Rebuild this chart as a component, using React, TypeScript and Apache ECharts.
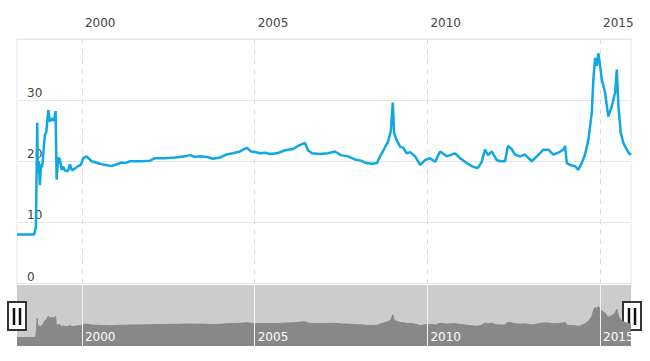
import React, { useEffect, useRef } from "react";
import * as echarts from "echarts";

// ---- data ----
const dates: string[] = [
  "1998-02-13", "1998-08-14", "1998-09-01", "1998-09-15", "1998-09-22", "1998-10-01", "1998-10-13",
  "1998-10-25", "1998-11-04", "1998-11-15", "1998-11-24", "1998-12-05", "1998-12-20", "1999-01-10",
  "1999-01-27", "1999-02-17", "1999-03-10", "1999-03-28", "1999-04-08", "1999-04-25", "1999-05-13",
  "1999-05-31", "1999-06-17", "1999-07-05", "1999-08-06", "1999-08-27", "1999-09-17", "1999-10-19",
  "1999-11-19", "1999-12-20", "2000-01-14", "2000-02-19", "2000-04-12", "2000-07-27", "2000-11-10",
  "2001-02-24", "2001-03-31", "2001-05-23", "2001-09-06", "2001-12-20", "2002-02-11", "2002-05-28",
  "2002-09-10", "2002-12-25", "2003-02-16", "2003-04-10", "2003-06-02", "2003-08-15", "2003-10-17",
  "2003-12-31", "2004-03-03", "2004-05-16", "2004-07-29", "2004-10-08", "2004-11-23", "2005-01-04",
  "2005-02-26", "2005-04-20", "2005-06-12", "2005-08-25", "2005-11-17", "2006-02-10", "2006-04-04",
  "2006-06-17", "2006-07-18", "2006-08-30", "2006-11-22", "2007-02-15", "2007-04-29", "2007-07-01",
  "2007-09-14", "2007-11-26", "2008-01-29", "2008-03-23", "2008-05-25", "2008-07-17", "2008-08-18",
  "2008-09-30", "2008-11-11", "2008-12-10", "2008-12-31", "2009-01-14", "2009-02-11", "2009-03-18",
  "2009-04-19", "2009-05-28", "2009-07-02", "2009-08-24", "2009-10-16", "2009-12-07", "2010-01-29",
  "2010-03-23", "2010-05-15", "2010-07-24", "2010-10-20", "2010-12-12", "2011-02-21", "2011-04-28",
  "2011-06-20", "2011-07-29", "2011-09-02", "2011-10-04", "2011-11-12", "2012-01-04", "2012-02-08",
  "2012-04-01", "2012-05-02", "2012-06-10", "2012-07-15", "2012-09-06", "2012-10-29", "2013-01-09",
  "2013-03-03", "2013-05-12", "2013-07-03", "2013-08-25", "2013-10-17", "2013-12-09", "2013-12-27",
  "2014-01-14", "2014-02-18", "2014-04-11", "2014-05-16", "2014-06-21", "2014-07-26", "2014-08-30",
  "2014-10-05", "2014-10-22", "2014-11-09", "2014-11-27", "2014-12-14", "2015-01-01", "2015-01-19",
  "2015-02-23", "2015-03-29", "2015-05-05", "2015-06-09", "2015-06-27", "2015-07-14", "2015-08-08",
  "2015-09-04", "2015-10-10", "2015-11-13", "2015-11-24",
];
const values: number[] = [
  8.0, 8.0, 9.3, 26.3, 18.0, 20.0, 16.1,
  19.5, 19.0, 20.5, 22.5, 24.3, 24.8, 28.4,
  26.5, 27.0, 26.6, 28.2, 17.0, 20.6, 20.3,
  18.6, 19.1, 18.5, 18.4, 19.5, 18.5, 18.8,
  19.2, 19.4, 20.5, 20.8, 20.0, 19.5, 19.2,
  19.8, 19.7, 20.0, 20.0, 20.1, 20.5, 20.5,
  20.6, 20.8, 21.0, 20.7, 20.8, 20.7, 20.4,
  20.6, 21.1, 21.3, 21.6, 22.2, 21.6, 21.5,
  21.3, 21.4, 21.2, 21.3, 21.8, 22.0, 22.5,
  23.0, 21.8, 21.3, 21.2, 21.3, 21.6, 21.0,
  20.8, 20.3, 20.1, 19.7, 19.6, 19.7, 20.8,
  22.0, 23.2, 24.9, 29.6, 24.6, 23.4, 22.4,
  22.2, 21.3, 21.5, 20.8, 19.4, 20.2, 20.5,
  19.9, 21.6, 20.8, 21.3, 20.5, 19.7, 19.1,
  18.9, 19.9, 21.9, 21.0, 21.6, 20.2, 20.0,
  20.0, 22.5, 22.0, 21.1, 20.8, 21.1, 20.0,
  20.8, 21.9, 21.9, 21.1, 21.4, 21.9, 22.5,
  19.7, 19.4, 19.2, 18.6, 19.7, 21.1, 23.5,
  27.9, 33.4, 36.9, 35.6, 37.7, 35.6, 33.4,
  31.2, 27.3, 29.0, 31.2, 35.0, 29.0, 24.6,
  23.0, 21.9, 21.1, 21.3,
];
const xMin = "1998-02-13";
const xMax = "2015-11-24";
const tickYears: number[] = [2000, 2005, 2010, 2015];
const yTicks = { min: 0, max: 40, interval: 10 };
const navYMax = 58;

const toTs = (s: string) => {
  const [y, m, d] = s.split("-").map(Number);
  return new Date(y, m - 1, d).getTime();
};

export default function App() {
  const ref = useRef<HTMLDivElement>(null);
  useEffect(() => {
    if (!ref.current) return;
    const chart = echarts.init(ref.current, undefined, { renderer: "svg" });
    const data = dates.map((d, i) => [toTs(d), values[i]]);
    const yearTs = tickYears.map((y) => new Date(y, 0, 1).getTime());
    const fmt = (v: number) => String(new Date(v).getFullYear());
    const font = { fontFamily: "DejaVu Sans", fontSize: 12 };
    const minTs = toTs(xMin);
    const maxTs = toTs(xMax);

    const handle = (cx: number) => ({
      type: "group",
      x: cx,
      y: 316,
      z: 100,
      children: [
        { type: "rect", shape: { x: -9, y: -14, width: 18, height: 28 }, style: { fill: "#fff", stroke: "#333", lineWidth: 2 } },
        { type: "line", shape: { x1: -3, y1: -8, x2: -3, y2: 9 }, style: { stroke: "#111", lineWidth: 2.5 } },
        { type: "line", shape: { x1: 3, y1: -8, x2: 3, y2: 9 }, style: { stroke: "#111", lineWidth: 2.5 } },
      ],
    });

    chart.setOption({
      animation: false,
      backgroundColor: "#fff",
      grid: [
        { left: 17, right: 19, top: 39, bottom: 77.5, show: true, borderColor: "#e6e6e6", borderWidth: 1 },
        { left: 17, right: 19, top: 285, height: 61, show: true, backgroundColor: "#cccccc", borderWidth: 0 },
      ],
      xAxis: [
        {
          type: "value",
          gridIndex: 0,
          position: "top",
          min: minTs,
          max: maxTs,
          axisLine: { show: true, lineStyle: { color: "#e6e6e6" } },
          axisTick: { show: false, customValues: yearTs },
          axisLabel: {
            customValues: yearTs,
            formatter: fmt,
            align: "left",
            padding: [0, 0, 0, 3],
            margin: 10,
            color: "#444",
            ...font,
          },
          splitLine: { show: true, lineStyle: { color: "#dcdcdc", type: [5, 5] } },
        },
        {
          type: "value",
          gridIndex: 1,
          position: "bottom",
          z: 10,
          min: minTs,
          max: maxTs,
          axisLine: { show: false },
          axisTick: { show: false, customValues: yearTs },
          axisLabel: {
            customValues: yearTs,
            formatter: fmt,
            inside: true,
            align: "left",
            padding: [0, 0, 0, 3],
            margin: 3,
            color: "#fff",
            ...font,
          },
          splitLine: { show: true, lineStyle: { color: "#f2f2f2", width: 1 } },
        },
      ],
      yAxis: [
        {
          type: "value",
          gridIndex: 0,
          min: yTicks.min,
          max: yTicks.max,
          interval: yTicks.interval,
          axisLine: { show: false },
          axisTick: { show: false },
          axisLabel: {
            inside: true,
            showMaxLabel: false,
            verticalAlign: "bottom",
            margin: 10,
            padding: [0, 0, 1, 0],
            color: "#444",
            ...font,
          },
          splitLine: {
            show: true,
            lineStyle: { color: ["#a6a6a6", "#e6e6e6", "#e6e6e6", "#e6e6e6", "#e6e6e6"], width: 1 },
          },
        },
        {
          type: "value",
          gridIndex: 1,
          min: 0,
          max: navYMax,
          show: false,
          splitLine: { show: false },
        },
      ],
      series: [
        {
          type: "line",
          xAxisIndex: 0,
          yAxisIndex: 0,
          data,
          showSymbol: false,
          lineStyle: { color: "#0fa8e4", width: 2.5 },
          itemStyle: { color: "#0fa8e4" },
        },
        {
          type: "line",
          xAxisIndex: 1,
          yAxisIndex: 1,
          data,
          showSymbol: false,
          lineStyle: { color: "#888888", width: 1 },
          itemStyle: { color: "#888888" },
          areaStyle: { color: "#888888", opacity: 1 },
        },
      ],
      graphic: [handle(17), handle(632)],
    });
    return () => chart.dispose();
  }, []);
  return <div ref={ref} style={{ position: "fixed", left: 0, top: 0, width: 650, height: 361 }} />;
}
